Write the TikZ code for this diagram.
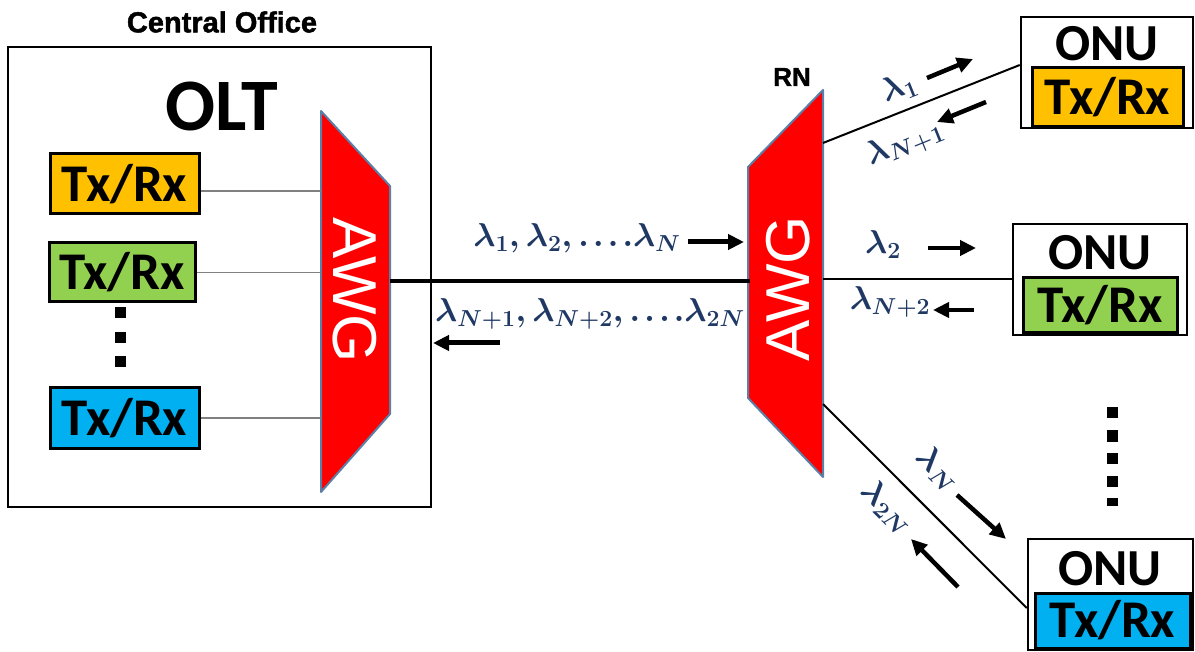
\RequirePackage{fix-cm}
\documentclass[tikz,border=0pt]{standalone}
\usepackage{fontspec}
\setmainfont{Carlito}
\newfontfamily\arialfont{Liberation Sans}
\newfontfamily\heavyfont{Liberation Sans Bold}[FakeBold=1.6]
\usetikzlibrary{arrows.meta}
\definecolor{lamc}{RGB}{31,56,100}
\definecolor{awgred}{RGB}{255,0,0}
\definecolor{awgedge}{RGB}{91,127,166}
\definecolor{txyellow}{RGB}{255,192,0}
\definecolor{txgreen}{RGB}{146,208,80}
\definecolor{txblue}{RGB}{0,176,240}
\newcommand\txfont{\fontsize{53}{60}\selectfont\bfseries}
\newcommand\onufont{\fontsize{52}{58}\selectfont\bfseries}
\newcommand\oltfont{\fontsize{74}{80}\selectfont\bfseries}
\newcommand\awgfont{\arialfont\fontsize{62}{70}\selectfont}
\newcommand\lamfont{\fontsize{33}{38}\selectfont\boldmath}
\newcommand\ddd{{.}\mkern2mu{.}\mkern2mu{.}\mkern2mu{.}}
\begin{document}
\begin{tikzpicture}[x=1pt,y=-1pt,
  txbox/.style={draw=black,line width=3pt,inner sep=0pt,font=\txfont},
  outerbox/.style={draw=black,line width=2.5pt,fill=white,inner sep=0pt},
  awgshape/.style={fill=awgred,draw=awgedge,line width=2pt,line join=round},
  awgtext/.style={text=white,font=\awgfont,inner sep=0pt},
  lam/.style={text=lamc,font=\lamfont,inner sep=0pt},
  bigarrow/.style={line width=5pt,-{Triangle[length=16pt,width=15pt]}},
  diagarrow/.style={line width=4.5pt,-{Triangle[length=16pt,width=15pt]}},
  grayline/.style={draw=gray,line width=1.5pt},
  link/.style={draw=black,line width=2pt},
  fiber/.style={draw=black,line width=4pt},
  dotsq/.style={fill=black,inner sep=0pt,minimum width=11pt,minimum height=11pt}]
\useasboundingbox (0,0) rectangle (1195,652);

% Central office
\node[font=\heavyfont\fontsize{29}{32}\selectfont,inner sep=0pt] (colabel) at (222,22) {Central Office};
\node[draw=black,line width=2.5pt,minimum width=423pt,minimum height=460pt,inner sep=0pt] (co) at (219.5,277) {};
\node[font=\oltfont,inner sep=0pt] (olt) at (222,106) {OLT};

\node[txbox,fill=txyellow,minimum width=149pt,minimum height=60pt] (tx1) at (124.5,184) {Tx/Rx};
\node[txbox,fill=txgreen,minimum width=146pt,minimum height=59pt] (tx2) at (122,272.5) {Tx/Rx};
\node[txbox,fill=txblue,minimum width=149pt,minimum height=60pt] (tx3) at (124.5,418) {Tx/Rx};

\node[dotsq] (d1) at (120,313) {};
\node[dotsq] (d2) at (120,338) {};
\node[dotsq] (d3) at (120,362) {};

% left AWG
\draw[awgshape] (321,111) coordinate (L1) -- (390,186) coordinate (L2) -- (390,414) coordinate (L3) -- (321,492) coordinate (L4) -- cycle;
\node[awgtext,rotate=-90] (awgLt) at (355,290) {AWG};
\coordinate (Lport) at (390,281);

\draw[grayline] ([yshift=-7pt]tx1.east) -- ([yshift=-7pt]tx1.east -| L1);
\draw[grayline] (tx2.east) -- (tx2.east -| L1);
\draw[grayline] (tx3.east) -- (tx3.east -| L1);

% right AWG
\draw[awgshape] (823,90) coordinate (R1) -- (748,167) coordinate (R2) -- (748,398) coordinate (R3) -- (823,477) coordinate (R4) -- cycle;
\node[awgtext,rotate=90] (awgRt) at (788,289) {AWG};
\node[font=\heavyfont\fontsize{26}{30}\selectfont,inner sep=0pt] (rn) at (792,77) {RN};
\coordinate (Rin) at (750,281);
\coordinate (Rp1) at (823,143);
\coordinate (Rp2) at (823,279.5);
\coordinate (Rp3) at (823,404);

% trunk fiber
\draw[fiber] (Lport) -- (Rin);
\node[lam] (lamdown) at (577,238) {$\lambda_1,\lambda_2,\ddd\lambda_N$};
\node[lam] (lamup) at (590,314) {$\lambda_{N+1},\lambda_{N+2},\ddd\lambda_{2N}$};
\coordinate (ta1) at (688,242); \coordinate (ta2) at (744,242);
\draw[bigarrow] (ta1) -- (ta2);
\coordinate (tb1) at (500,343); \coordinate (tb2) at (433,343);
\draw[bigarrow] (tb1) -- (tb2);

% ONUs
\node[outerbox,minimum width=172pt,minimum height=111pt] (onu1) at (1107,72.5) {};
\node[txbox,fill=txyellow,minimum width=151pt,minimum height=59pt] (otx1) at (1107.5,97.5) {Tx/Rx};
\node[font=\onufont,inner sep=0pt] (onu1t) at (1107,44) {ONU};

\node[outerbox,minimum width=174pt,minimum height=111pt] (onu2) at (1100,279.5) {};
\node[txbox,fill=txgreen,minimum width=154pt,minimum height=55pt] (otx2) at (1100,305.5) {Tx/Rx};
\node[font=\onufont,inner sep=0pt] (onu2t) at (1100,253) {ONU};

\node[outerbox,minimum width=165pt,minimum height=111pt] (onu3) at (1110.5,594.5) {};
\node[txbox,fill=txblue,minimum width=155pt,minimum height=55pt] (otx3) at (1112.5,620.5) {Tx/Rx};
\node[font=\onufont,inner sep=0pt] (onu3t) at (1110,569) {ONU};

% drop fibers
\draw[link] (Rp1) -- ([yshift=7.5pt]onu1.west);
\draw[link] (Rp2) -- (onu2.west);
\draw[link] (Rp3) -- ([yshift=-13.5pt]onu3.west);

% drop labels and arrows
\node[lam,rotate=22] (l1) at (899,88) {$\lambda_1$};
\node[lam,rotate=22] (ln1) at (905,143) {$\lambda_{N+1}$};
\coordinate (a1s) at (927,78); \coordinate (a1e) at (973,59);
\draw[diagarrow] (a1s) -- (a1e);
\coordinate (a2s) at (986,102); \coordinate (a2e) at (937,122);
\draw[diagarrow] (a2s) -- (a2e);

\node[lam] (l2) at (883,245) {$\lambda_2$};
\node[lam] (ln2) at (890,302) {$\lambda_{N+2}$};
\coordinate (a3s) at (928,248); \coordinate (a3e) at (976,248);
\draw[diagarrow] (a3s) -- (a3e);
\coordinate (a4s) at (974,310); \coordinate (a4e) at (933,310);
\draw[diagarrow] (a4s) -- (a4e);

\node[lam,rotate=-45] (lN) at (938,469) {$\lambda_N$};
\node[lam,rotate=-45] (l2N) at (887,507) {$\lambda_{2N}$};
\coordinate (a5s) at (957,495); \coordinate (a5e) at (1006,539);
\draw[diagarrow] (a5s) -- (a5e);
\coordinate (a6s) at (958,587); \coordinate (a6e) at (911,539);
\draw[diagarrow] (a6s) -- (a6e);

\node[dotsq] (e1) at (1112,413) {};
\node[dotsq] (e2) at (1112,436) {};
\node[dotsq] (e3) at (1112,458) {};
\node[dotsq] (e4) at (1112,481) {};
\node[dotsq,minimum height=8pt] (e5) at (1112,502) {};
\end{tikzpicture}
\end{document}
